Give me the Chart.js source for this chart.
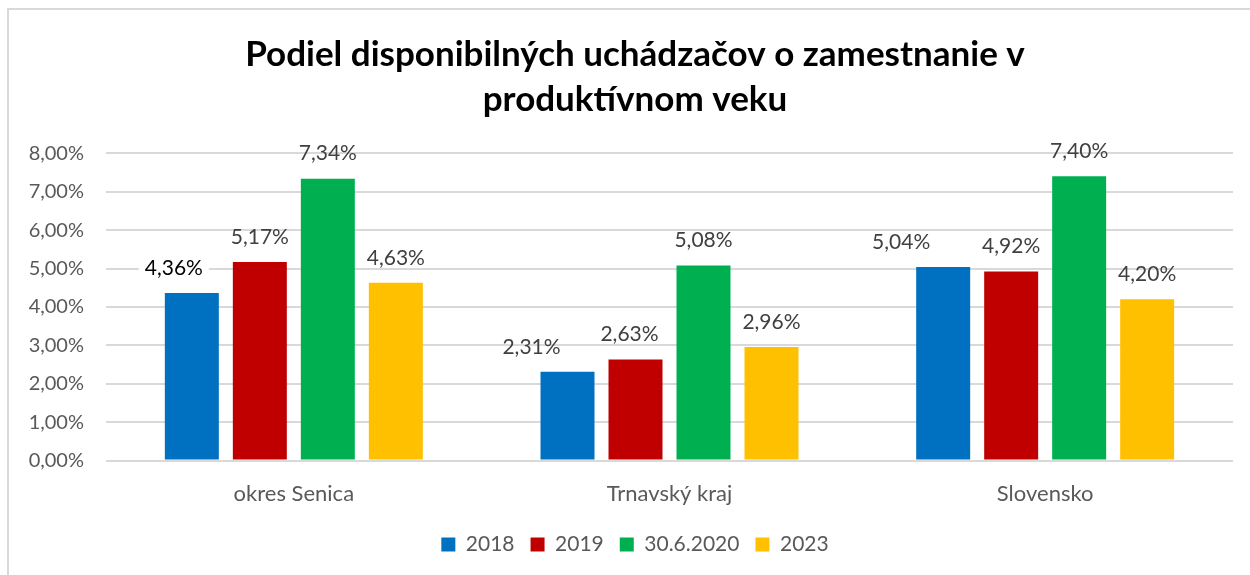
<!DOCTYPE html>
<html lang="sk">
<head>
<meta charset="UTF-8">
<title>Podiel disponibilných uchádzačov</title>
<script src="https://cdn.jsdelivr.net/npm/chart.js"></script>
<style>
  html, body { margin: 0; padding: 0; background: #fff; }
  #wrap { position: relative; width: 1250px; height: 575px; overflow: hidden; }
  #frame { position: absolute; left: 7px; top: 8px; width: 1300px; height: 700px;
           border-left: 2px solid #d9d9d9; border-top: 2px solid #d9d9d9; }
  canvas { position: absolute; left: 0; top: 0; }
</style>
</head>
<body>
<div id="wrap">
  <div id="frame"></div>
  <canvas id="chart" width="1250" height="575"></canvas>
</div>
<script>
const categories = ['okres Senica', 'Trnavský kraj', 'Slovensko'];
const seriesNames = ['2018', '2019', '30.6.2020', '2023'];
const values2018 = [4.36, 2.31, 5.04];
const values2019 = [5.17, 2.63, 4.92];
const values2020 = [7.34, 5.08, 7.40];
const values2023 = [4.63, 2.96, 4.20];
const colors = ['#0070C0', '#C00000', '#00B050', '#FFC000'];

const FONT = 'Lato';
const pct = v => v.toFixed(2).replace('.', ',') + '%';

// popisky hodnôt nad stĺpcami (v Exceli boli niektoré ručne posunuté)
const valueLabels = {
  id: 'valueLabels',
  afterDatasetsDraw(chart, args, opts) {
    const ctx = chart.ctx;
    ctx.save();
    ctx.font = '21px ' + FONT;
    ctx.textAlign = 'center';
    ctx.textBaseline = 'middle';
    chart.data.datasets.forEach((ds, i) => {
      chart.getDatasetMeta(i).data.forEach((bar, j) => {
        const key = i + ':' + j;
        const dx = opts.shift[key] || 0;
        const txt = pct(ds.data[j]);
        const x = bar.x + dx, y = bar.y - 25;
        if (opts.boxed.includes(key)) {
          const w = ctx.measureText(txt).width;
          ctx.fillStyle = '#fff';
          ctx.fillRect(x - w / 2 - 6, y - 13, w + 12, 26);
          ctx.fillStyle = '#000';
        } else {
          ctx.fillStyle = '#404040';
        }
        ctx.fillText(txt, x, y);
      });
    });
    ctx.restore();
  }
};

const allSeries = [values2018, values2019, values2020, values2023];

new Chart(document.getElementById('chart'), {
  type: 'bar',
  data: {
    labels: categories,
    datasets: allSeries.map((vals, i) => ({
      label: seriesNames[i],
      data: vals,
      backgroundColor: colors[i],
      categoryPercentage: 0.724,
      barPercentage: 0.794
    }))
  },
  options: {
    responsive: false,
    animation: false,
    layout: { padding: { left: 20, right: 0, top: 32, bottom: 10 } },
    plugins: {
      title: {
        display: true,
        text: ['Podiel disponibilných uchádzačov o zamestnanie v', 'produktívnom veku'],
        color: '#000',
        font: { family: FONT, size: 35, weight: 'bold', lineHeight: 1.29 },
        padding: { top: 0, bottom: 31 }
      },
      legend: {
        position: 'bottom',
        labels: {
          color: '#595959',
          font: { family: FONT, size: 21 },
          boxWidth: 14,
          boxHeight: 14,
          padding: 16
        }
      },
      tooltip: { enabled: false },
      valueLabels: {
        shift: { '0:0': -18, '0:1': -36, '0:2': -42, '1:1': -6 },
        boxed: ['0:0']
      }
    },
    scales: {
      x: {
        afterFit(scale) { scale.height -= 9; },
        grid: { display: false, drawTicks: false },
        border: { display: false },
        ticks: { color: '#595959', font: { family: FONT, size: 22 }, padding: 20 }
      },
      y: {
        min: 0,
        max: 8,
        afterFit(scale) { scale.width = 86; },
        grid: { color: '#d9d9d9', lineWidth: 2, drawTicks: false },
        border: { display: false },
        ticks: {
          stepSize: 1,
          color: '#595959',
          font: { family: FONT, size: 20 },
          padding: 22,
          callback: v => pct(v)
        }
      },
      // prázdna os vpravo len kvôli okraju grafu
      yRight: {
        position: 'right',
        afterFit(scale) { scale.width = 17; },
        grid: { display: false, drawTicks: false },
        border: { display: false },
        ticks: { display: false }
      }
    }
  },
  plugins: [valueLabels]
});
</script>
</body>
</html>
